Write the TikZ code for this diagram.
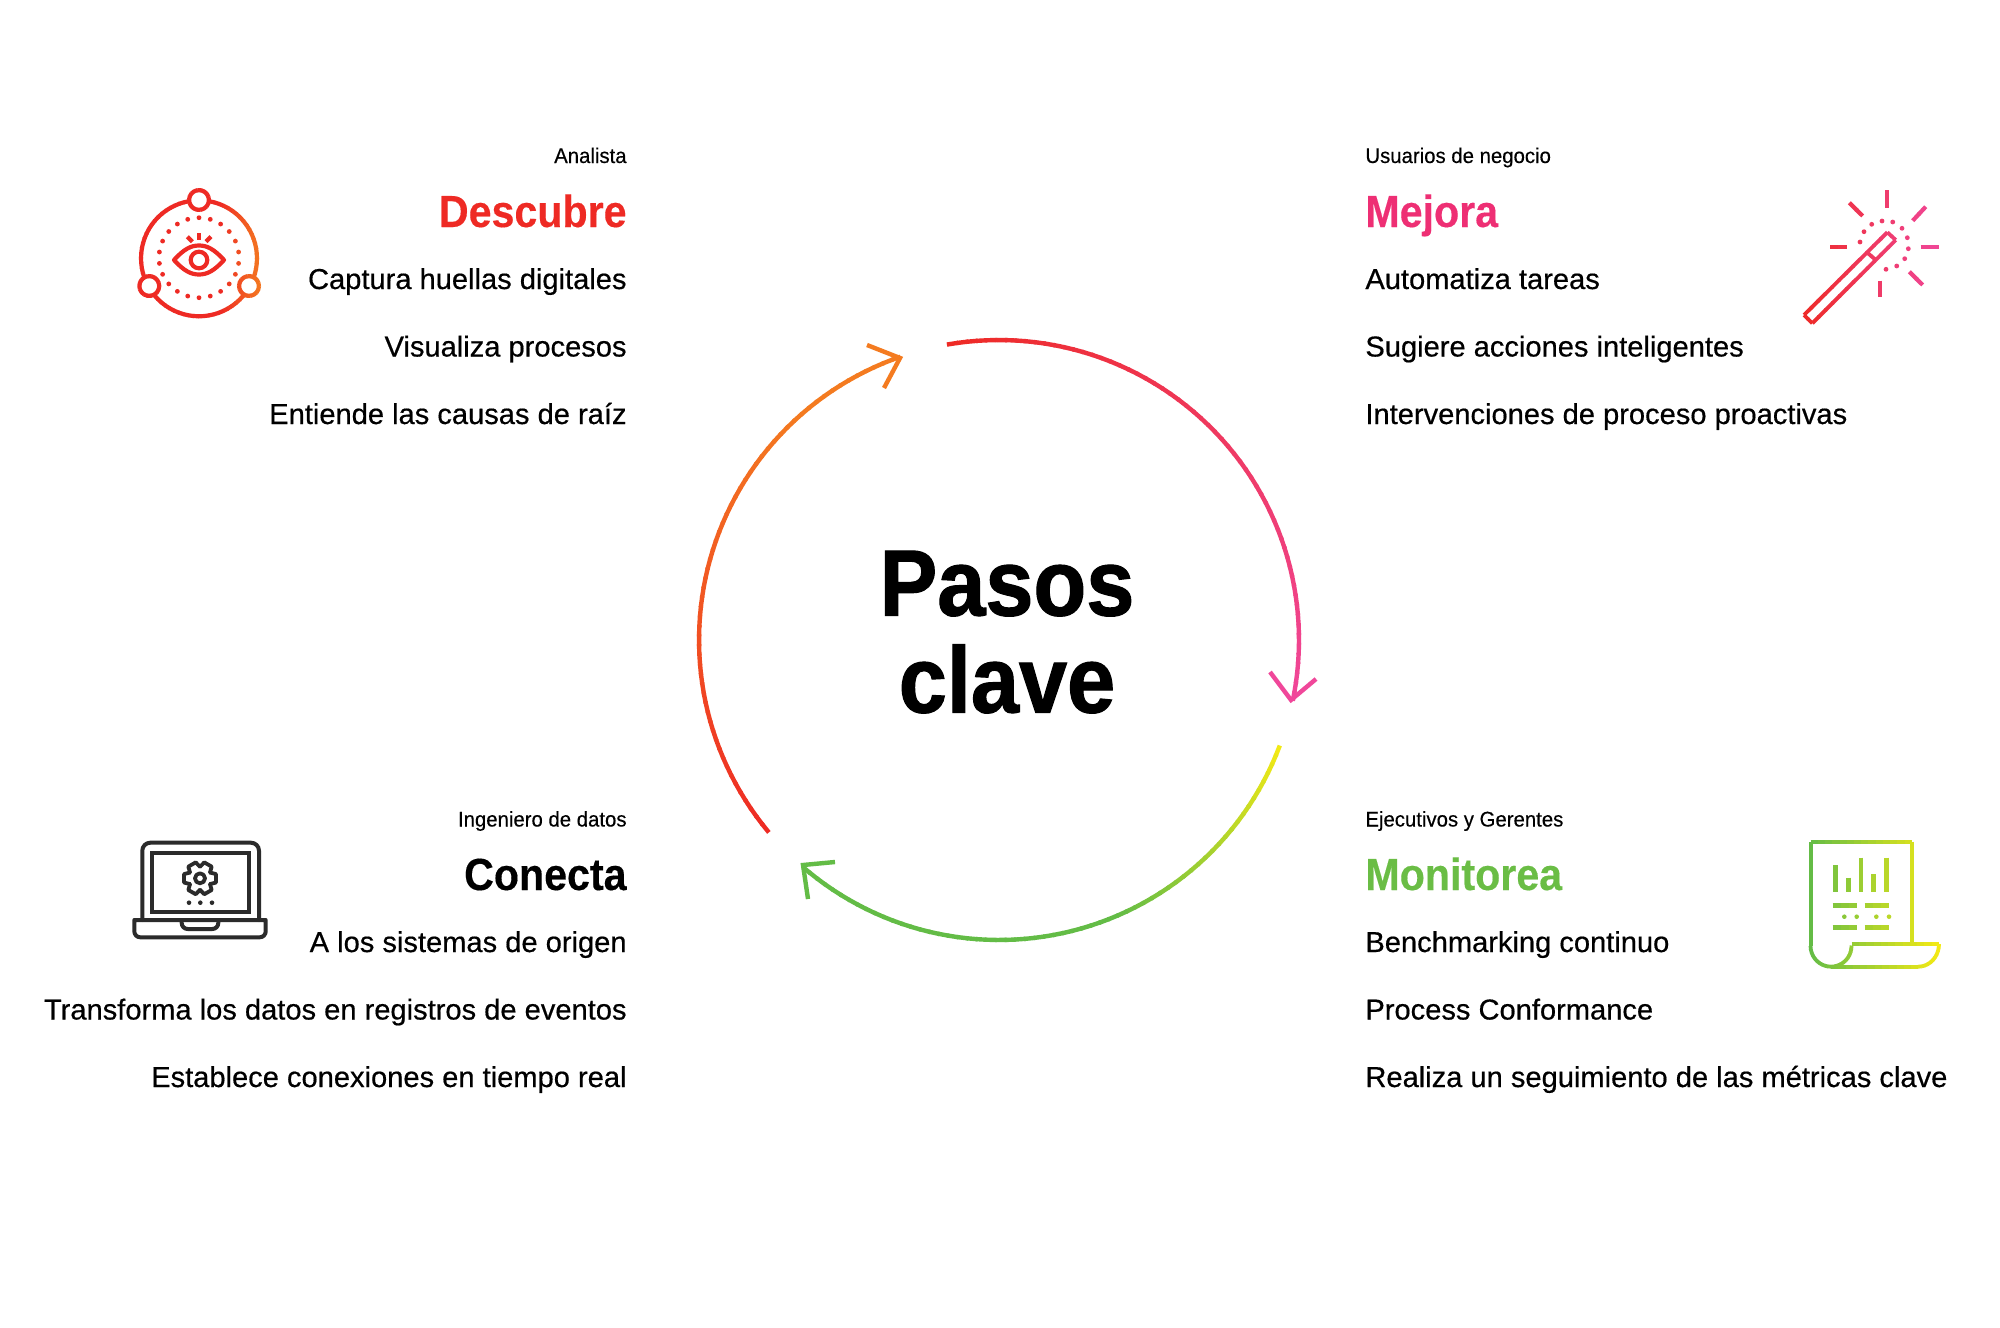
\documentclass[tikz,border=0pt]{standalone}
\usepackage{fontspec}
\setmainfont{Liberation Sans}
\newfontfamily\fmed[FakeBold=0.5,FakeStretch=1.01]{Liberation Sans}
\newfontfamily\fsmall[FakeBold=0.3,FakeStretch=0.96]{Liberation Sans}
\newfontfamily\fhead[FakeBold=0.3,FakeStretch=0.915]{Liberation Sans Bold}
\newfontfamily\ftitle[FakeBold=1.2,FakeStretch=0.92]{Liberation Sans Bold}
\definecolor{cred}{HTML}{EE2A24}
\definecolor{cpink}{HTML}{F0479A}
\definecolor{corange}{HTML}{F47B20}
\definecolor{cyellow}{HTML}{F5EA14}
\definecolor{cgreen}{HTML}{63BC46}
\definecolor{cdark}{HTML}{2B2B2B}
\definecolor{cmej}{HTML}{EE2F74}
\definecolor{cmon}{HTML}{6ABD45}
% gradient helpers: colour follows x between \gxa and \gxb, from colour gA to gB
\newcommand\gset[4]{\gdef\gxa{#1}\gdef\gxb{#2}\colorlet{gA}{#3}\colorlet{gB}{#4}}
\newcommand\gpct[1]{\pgfmathsetmacro\gp{max(0,min(100,100*((#1)-\gxa)/(\gxb-\gxa)))}}
\newcommand\gline[5]{% x1 y1 x2 y2 n
  \foreach \i in {1,...,#5}{%
    \pgfmathsetmacro\ta{(\i-1)/#5}\pgfmathsetmacro\tb{min(1,(\i+0.15)/#5)}%
    \pgfmathsetmacro\xa{#1+(#3-#1)*\ta}\pgfmathsetmacro\ya{#2+(#4-#2)*\ta}%
    \pgfmathsetmacro\xb{#1+(#3-#1)*\tb}\pgfmathsetmacro\yb{#2+(#4-#2)*\tb}%
    \gpct{(\xa+\xb)/2}%
    \draw[icon,color=gB!\gp!gA] (\xa,\ya) -- (\xb,\yb);}}
\newcommand\garc[7]{% cx cy rx ry a1 a2 n
  \foreach \i in {1,...,#7}{%
    \pgfmathsetmacro\ta{#5+(#6-#5)/#7*(\i-1)}\pgfmathsetmacro\tb{#5+(#6-#5)/#7*(\i+0.15)}%
    \pgfmathsetmacro\xa{#1+#3*cos(\ta)}\pgfmathsetmacro\ya{#2+#4*sin(\ta)}%
    \pgfmathsetmacro\xb{#1+#3*cos(\tb)}\pgfmathsetmacro\yb{#2+#4*sin(\tb)}%
    \gpct{(\xa+\xb)/2}%
    \draw[icon,color=gB!\gp!gA] (\xa,\ya) -- (\xb,\yb);}}
\newcommand\gdot[3]{\gpct{#1}\fill[color=gB!\gp!gA] (#1,#2) circle[radius=#3];}
% arc of the big cycle: colour goes A->B over the first fraction f, then stays B
\newcommand\cyc[6]{% a1 a2 colA colB f n
  \foreach \i in {1,...,#6}{%
    \pgfmathsetmacro\ta{#1+(#2-#1)/#6*(\i-1)}\pgfmathsetmacro\tb{#1+(#2-#1)*min(1,(\i+0.2)/#6)}%
    \pgfmathsetmacro\mx{max(0,min(100,100*((\i-0.5)/#6)/#5))}%
    \draw[cycleline,color=#4!\mx!#3] (\ta:300) -- (\tb:300);}}
\tikzset{
  x=0.5pt,y=-0.5pt,
  icon/.style={line width=2.1pt,line cap=butt,line join=miter},
  dark/.style={line width=2pt,color=cdark,line join=round,line cap=round},
  cycleline/.style={line width=2.2pt,line cap=butt},
  barb/.style={line width=2.2pt,line cap=butt,line join=miter},
  roleL/.style={anchor=base east,inner sep=0pt,font=\fsmall\fontsize{10.6}{12}\selectfont},
  roleR/.style={anchor=base west,inner sep=0pt,font=\fsmall\fontsize{10.6}{12}\selectfont},
  headL/.style={anchor=base east,inner sep=0pt,font=\fhead\fontsize{22.5}{26}\selectfont},
  headR/.style={anchor=base west,inner sep=0pt,font=\fhead\fontsize{22.5}{26}\selectfont},
  bodyL/.style={anchor=base east,inner sep=0pt,font=\fmed\fontsize{14.4}{17}\selectfont},
  bodyR/.style={anchor=base west,inner sep=0pt,font=\fmed\fontsize{14.4}{17}\selectfont},
  titleN/.style={anchor=base,inner sep=0pt,font=\ftitle\fontsize{47}{50}\selectfont},
}
\begin{document}
\begin{tikzpicture}
\useasboundingbox (0,0) rectangle (2000,1327);
\fill[white] (0,0) rectangle (2000,1327);
% ---- texts, left column
\node[roleL] (r1) at (627,163) {Analista};
\node[headL,text=cred] (h1) at (627,227) {Descubre};
\node[bodyL] (b11) at (627,289) {Captura huellas digitales};
\node[bodyL] (b12) at (627,356.5) {Visualiza procesos};
\node[bodyL] (b13) at (627,424) {Entiende las causas de raíz};
\node[roleL] (r2) at (627,826.5) {Ingeniero de datos};
\node[headL,text=black] (h2) at (627,890) {Conecta};
\node[bodyL] (b21) at (627,952) {A los sistemas de origen};
\node[bodyL] (b22) at (627,1019.5) {Transforma los datos en registros de eventos};
\node[bodyL] (b23) at (627,1087) {Establece conexiones en tiempo real};
% ---- texts, right column
\node[roleR] (r3) at (1365,163) {Usuarios de negocio};
\node[headR,text=cmej] (h3) at (1365,227) {Mejora};
\node[bodyR] (b31) at (1365,289) {Automatiza tareas};
\node[bodyR] (b32) at (1365,356.5) {Sugiere acciones inteligentes};
\node[bodyR] (b33) at (1365,424) {Intervenciones de proceso proactivas};
\node[roleR] (r4) at (1365,826.5) {Ejecutivos y Gerentes};
\node[headR,text=cmon] (h4) at (1365,890) {Monitorea};
\node[bodyR] (b41) at (1365,952) {Benchmarking continuo};
\node[bodyR] (b42) at (1365,1019.5) {Process Conformance};
\node[bodyR] (b43) at (1365,1087) {Realiza un seguimiento de las métricas clave};
% ---- centre
\node[titleN] (t1) at (1007,615.5) {Pasos};
\node[titleN] (t2) at (1007,712.5) {clave};
% ---- cycle
\begin{scope}[shift={(999,640)}]
\cyc{-100}{11.7}{cred}{cpink}{1}{60}
\cyc{20.6}{130.8}{cyellow}{cgreen}{0.42}{60}
\cyc{140.1}{250.8}{cred}{corange}{0.8}{60}
\end{scope}
\draw[barb,color=cpink] (1270,672) -- (1291,700) -- (1316,679);
\draw[barb,color=cgreen] (835,862) -- (803,865) -- (808,899);
\draw[barb,color=corange] (867,345) -- (900,358) -- (884,388);
% ---- eye icon
\gset{220}{262}{cred}{corange}
\garc{199}{258.3}{58}{58}{0}{360}{72}
\foreach \cx/\cy in {199/200,149.3/286,249/286}{
  \fill[white] (\cx,\cy) circle[radius=10];
  \garc{\cx}{\cy}{10}{10}{0}{360}{18}
}
\foreach \k in {0,...,21}{
  \pgfmathsetmacro\dx{199+40*cos((\k+0.5)*360/22)}
  \pgfmathsetmacro\dy{257.7+40*sin((\k+0.5)*360/22)}
  \gdot{\dx}{\dy}{2.4}
}
\draw[icon,color=cred,line join=round] (174,260) .. controls (184,249) and (191,245.5) .. (199,245.5) .. controls (207,245.5) and (214,249) .. (224,260) .. controls (214,271) and (207,274.5) .. (199,274.5) .. controls (191,274.5) and (184,271) .. (174,260) -- cycle;
\draw[icon,color=cred] (199,260) circle[radius=8.3];
\draw[icon,color=cred] (199,233) -- (199,240);
\draw[icon,color=cred] (187.3,236.7) -- (192.3,241.7);
\draw[icon,color=cred] (211,236.7) -- (206,241.7);
% ---- wand icon
\gset{1800}{1940}{cred}{cpink}
\gline{1886.7}{190}{1886.7}{207.7}{1}
\gline{1925.7}{206.7}{1912.7}{220.7}{2}
\gline{1920.7}{246.7}{1939.3}{246.7}{2}
\gline{1909.3}{271.7}{1922.7}{285}{2}
\gline{1880.3}{280.7}{1880.3}{297.3}{1}
\gline{1830}{246.7}{1846.7}{246.7}{2}
\gline{1849.3}{202.7}{1862.7}{216}{2}
\foreach \dx/\dy in {1860/242,1864/231.7,1871.7/224.3,1882/221,1892.7/222,1902/228.3,1907.3/237.7,1908.3/248.7,1904.7/258.7,1896.7/266,1886/269.3}{
  \gdot{\dx}{\dy}{2.4}
}
\begin{scope}[icon/.append style={line cap=square,line width=1.9pt}]
\gline{1804}{315}{1887.3}{232.3}{12}
\gline{1887.3}{232.3}{1895.7}{240}{2}
\gline{1895.7}{240}{1812.3}{323.3}{12}
\gline{1812.3}{323.3}{1804}{315}{2}
\gline{1867.3}{252.7}{1875}{259.3}{2}
\end{scope}
% ---- laptop icon
\draw[dark] (142.3,920) -- (142.3,850.7) arc[start angle=180,end angle=270,radius=8] -- (251,842.7) arc[start angle=-90,end angle=0,radius=8] -- (259,920);
\draw[dark,line join=miter] (152.3,852.7) rectangle (248.7,911.7);
\draw[dark] (134.3,920) -- (265.7,920) -- (265.7,931.3) arc[start angle=0,end angle=90,radius=6] -- (140.3,937.3) arc[start angle=90,end angle=180,radius=6] -- cycle;
\draw[dark] (181.7,921) -- (181.7,923) arc[start angle=180,end angle=90,radius=6] -- (212.3,929) arc[start angle=90,end angle=0,radius=6] -- (218.3,921);
\begin{scope}[shift={(200,878.3)}]
\foreach \a in {0,60,...,300}{
  \draw[dark,line width=1.9pt] (\a-30:11.5) -- (\a-15:16.5) -- (\a+15:16.5) -- (\a+30:11.5);
}
\draw[dark,line width=1.9pt] (0,0) circle[radius=5];
\end{scope}
\foreach \dx in {189,200.3,212}{\fill[cdark] (\dx,902.7) circle[radius=2.3];}
% ---- report icon
\gset{1810}{1940}{cgreen}{cyellow}
\begin{scope}[icon/.append style={line cap=square,line width=1.9pt}]
\gline{1810.7}{841.7}{1911.7}{841.7}{14}
\gline{1911.7}{841.7}{1911.7}{944}{1}
\gline{1810.7}{841.7}{1810.7}{946}{1}
\gline{1851.7}{944}{1939}{944}{12}
\gline{1918.3}{966.7}{1831}{966.7}{12}
\end{scope}
\begin{scope}[icon/.append style={line width=1.9pt}]
\garc{1831}{946}{20.5}{20.7}{180}{0}{20}
\garc{1918.3}{944}{20.7}{22.7}{0}{90}{10}
\end{scope}
\begin{scope}[icon/.append style={line width=2.3pt}]
\foreach \bx/\by in {1835.7/865,1848.3/877.7,1861/857.7,1873.7/874,1886.3/857.7}{
  \gline{\bx}{\by}{\bx}{892.3}{1}
}
\gline{1832.7}{905.7}{1856.7}{905.7}{3}
\gline{1864.7}{905.7}{1889}{905.7}{3}
\gline{1832.7}{927.7}{1856.7}{927.7}{3}
\gline{1864.7}{927.7}{1889}{927.7}{3}
\end{scope}
\foreach \dx in {1844.3,1856.7,1876.3,1889}{\gdot{\dx}{916.7}{2.3}}
\end{tikzpicture}
\end{document}
